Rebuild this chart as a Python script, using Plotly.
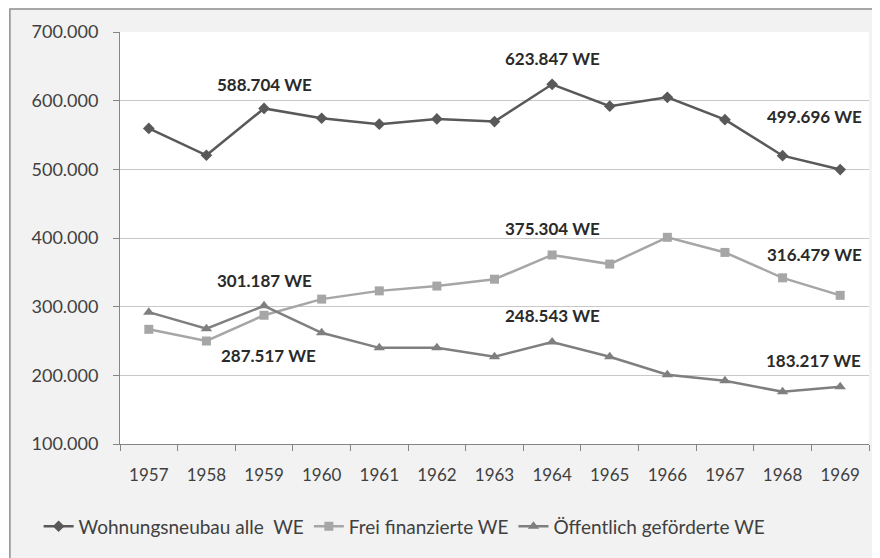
import plotly.graph_objects as go

# Wohnungsbau in der BRD 1957-1969 (Wohneinheiten)
years = ["1957", "1958", "1959", "1960", "1961", "1962", "1963",
         "1964", "1965", "1966", "1967", "1968", "1969"]
alle_we = [559641, 520495, 588704, 574402, 565761, 573375, 569610,
           623847, 591916, 604799, 572301, 519854, 499696]
frei_we = [267000, 250000, 287517, 311000, 323000, 330000, 340000,
           375304, 362000, 401000, 379000, 342000, 316479]
oeff_we = [292000, 268000, 301187, 262000, 240000, 240000, 227000,
           248543, 227000, 201000, 192000, 176000, 183217]

# (jahr, wert, xshift, yshift)
labels = [
    ("1959", 588704, 0, 24), ("1964", 623847, 0, 26), ("1969", 499696, -26, 53),
    ("1964", 375304, 0, 26), ("1969", 316479, -26, 41),
    ("1959", 301187, 0, 25), ("1959", 287517, 4, -40),
    ("1964", 248543, 0, 27), ("1969", 183217, -27, 26),
]

fnt = "Lato, Noto Sans, sans-serif"

fig = go.Figure()
fig.add_trace(go.Scatter(x=years, y=alle_we, name="Wohnungsneubau alle  WE",
                         mode="lines+markers", line=dict(color="#595959", width=2.5),
                         marker=dict(symbol="diamond", size=9, color="#595959")))
fig.add_trace(go.Scatter(x=years, y=frei_we, name="Frei finanzierte WE",
                         mode="lines+markers", line=dict(color="#a6a6a6", width=2.5),
                         marker=dict(symbol="square", size=9, color="#a6a6a6")))
fig.add_trace(go.Scatter(x=years, y=oeff_we, name="Öffentlich geförderte WE",
                         mode="lines+markers", line=dict(color="#7f7f7f", width=2.5),
                         marker=dict(symbol="triangle-up", size=10, color="#7f7f7f")))

for yr, val, dx, dy in labels:
    fig.add_annotation(x=years.index(yr), y=val, text="<b>" + f"{val:,}".replace(",", ".") + " WE</b>",
                       showarrow=False, xshift=dx, yshift=dy,
                       font=dict(family=fnt, size=17, color="#2a2a2a"))

# Rahmen um das Diagramm, Zeichenfläche weiß
fig.add_shape(type="rect", xref="paper", yref="paper",
              x0=-0.147, x1=1.03, y0=-0.3, y1=1.056,
              line=dict(color="#8c8c8c", width=1.5), fillcolor="#f2f2f2", layer="below")
fig.add_shape(type="rect", xref="paper", yref="paper", x0=0, x1=1, y0=0, y1=1,
              line=dict(width=0), fillcolor="white", layer="below")

fig.update_layout(
    width=880, height=558,
    margin=dict(l=112, r=19, t=24, b=122, autoexpand=False),
    paper_bgcolor="white", plot_bgcolor="white",
    separators=",.",
    font=dict(family=fnt, size=17, color="#404040"),
    showlegend=True,
    legend=dict(orientation="h", x=0.38, xanchor="center", y=-0.2, yanchor="middle",
                bgcolor="rgba(0,0,0,0)", font=dict(size=19, color="#404040")),
)
fig.update_xaxes(type="category", range=[-0.5, 12.5], showline=True, linecolor="#868686",
                 linewidth=1, ticks="outside", tickson="boundaries", ticklen=6,
                 tickcolor="#868686", showgrid=False, ticklabelstandoff=16, tickangle=0)
fig.update_yaxes(range=[100000, 700000], dtick=100000, tickformat=",.0f",
                 showline=True, linecolor="#868686", linewidth=1,
                 ticks="outside", ticklen=6, tickcolor="#868686", tickfont=dict(size=18),
                 gridcolor="#c8c8c8", gridwidth=1, zeroline=False, ticklabelstandoff=11)

fig.write_html("out.html")
